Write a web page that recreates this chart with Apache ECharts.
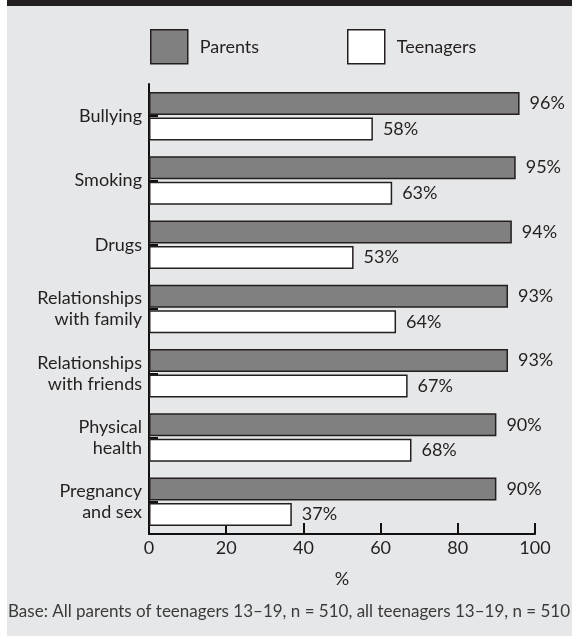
<!DOCTYPE html>
<html>
<head>
<meta charset="utf-8">
<script src="https://cdn.jsdelivr.net/npm/echarts@6/dist/echarts.min.js"></script>
<style>
html,body{margin:0;padding:0;background:#fff;}
#chart{width:572px;height:636px;}
</style>
</head>
<body>
<div id="chart"></div>
<script>
var categories = ['Bullying', 'Smoking', 'Drugs', 'Relationships\nwith family', 'Relationships\nwith friends', 'Physical\nhealth', 'Pregnancy\nand sex'];
var parents = [96, 95, 94, 93, 93, 90, 90];
var teenagers = [58, 63, 53, 64, 67, 68, 37];
var xTicks = [0, 20, 40, 60, 80, 100];
var footnote = 'Base: All parents of teenagers 13\u201319, n = 510, all teenagers 13\u201319, n = 510';

var FONT = 'Lato';
var TXT = '#231f20';
var chart = echarts.init(document.getElementById('chart'), null, {renderer: 'canvas'});
var labelCfg = {show: true, position: 'right', distance: 10, fontFamily: FONT, fontSize: 18, color: TXT, formatter: '{c}%'};
chart.setOption({
  backgroundColor: '#ffffff',
  animation: false,
  textStyle: {fontFamily: FONT, color: TXT},
  graphic: [
    {type: 'rect', z: -10, silent: true, shape: {x: 7, y: 0, width: 565, height: 636}, style: {fill: '#e6e7e8'}},
    {type: 'rect', z: -9, silent: true, shape: {x: 7, y: 0, width: 565, height: 6}, style: {fill: '#231f20'}},
    {type: 'text', z: 5, left: 8, top: 603, style: {text: footnote, font: '17px Lato', fill: '#3a3a3a'}}
  ],
  legend: [
    {data: ['Parents'], left: 150, top: 29, padding: 0, itemWidth: 37, itemHeight: 34, itemGap: 12,
     textStyle: {fontFamily: FONT, fontSize: 18, color: TXT, padding: [0, 0, 0, 7]}, icon: 'rect',
     itemStyle: {borderColor: '#231f20', borderWidth: 1.5}},
    {data: ['Teenagers'], left: 347, top: 29, padding: 0, itemWidth: 37, itemHeight: 34, itemGap: 12,
     textStyle: {fontFamily: FONT, fontSize: 18, color: TXT, padding: [0, 0, 0, 7]}, icon: 'rect',
     itemStyle: {borderColor: '#231f20', borderWidth: 1.5}}
  ],
  grid: {left: 149, right: 37, top: 84, bottom: 102, containLabel: false},
  xAxis: {
    type: 'value', min: 0, max: 100, interval: 20,
    axisLine: {show: true, lineStyle: {color: '#111', width: 2}},
    axisTick: {show: true, inside: true, length: 11, lineStyle: {color: '#111', width: 2}},
    splitLine: {show: false},
    axisLabel: {fontFamily: FONT, fontSize: 18, color: TXT, margin: 5,
      formatter: function (v) { return xTicks.indexOf(v) >= 0 ? String(v) : ''; }},
    name: '%', nameLocation: 'middle', nameGap: 36,
    nameTextStyle: {fontFamily: FONT, fontSize: 18, color: TXT}
  },
  yAxis: {
    type: 'category', data: categories, inverse: true,
    axisLine: {show: true, lineStyle: {color: '#111', width: 2}},
    axisTick: {show: true, inside: true, alignWithLabel: true, length: 9, lineStyle: {color: '#111', width: 2}},
    axisLabel: {fontFamily: FONT, fontSize: 18, color: TXT, margin: 7, lineHeight: 21, align: 'right'}
  },
  series: [
    {name: 'Parents', type: 'bar', data: parents, barWidth: 23, barGap: '11%',
     itemStyle: {color: '#808080', borderColor: '#231f20', borderWidth: 1.5},
     label: labelCfg, z: 3},
    {name: 'Teenagers', type: 'bar', data: teenagers, barWidth: 23, barGap: '11%',
     itemStyle: {color: '#ffffff', borderColor: '#231f20', borderWidth: 1.5},
     label: labelCfg, z: 3}
  ]
});
</script>
</body>
</html>
